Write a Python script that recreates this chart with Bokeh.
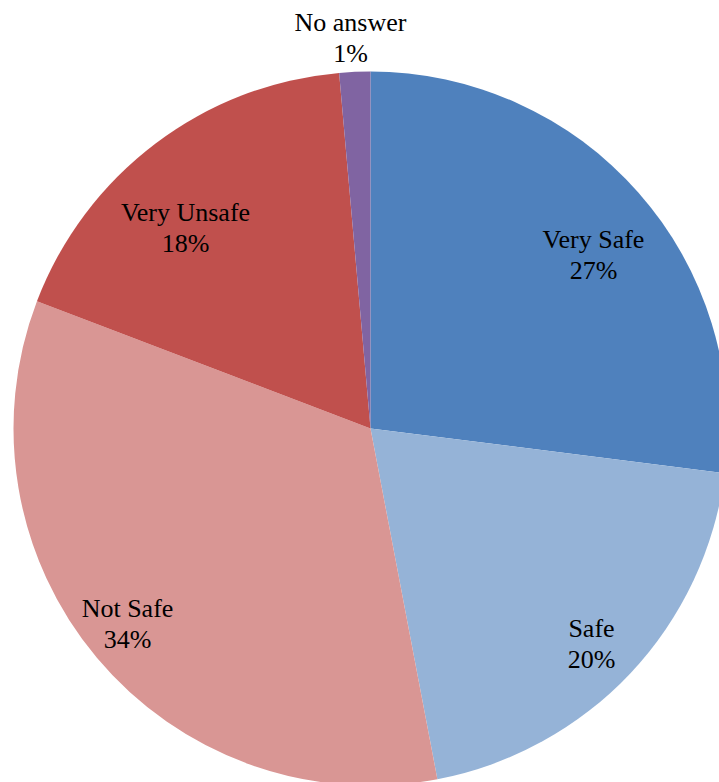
import math
from bokeh.plotting import figure
from bokeh.models import Range1d, ColumnDataSource
from bokeh.core.properties import value
from bokeh.embed import file_html
from bokeh.resources import INLINE

# ---- data ----
categories = ["Very Safe", "Safe", "Not Safe", "Very Unsafe", "No answer"]
shares = [27.0, 20.0, 33.8, 17.8, 1.4]
colors = ["#4F81BD", "#95B3D7", "#D99694", "#C0504D", "#8064A2"]

# ---- layout (screen pixels) ----
W, H = 719, 782
CX, CY_TOP = 370, 428          # pie centre, measured from figure top-left
R = 357
# label anchors: offset of first-line text relative to pie centre (dx, dy downward)
label_offsets = [(223, -189), (221, 200), (-243, 180), (-185, -216), (-20, -406)]
LINE_GAP = 31

cy = H - CY_TOP
total = sum(shares)
starts, ends = [], []
acc = 0.0
for s in shares:
    starts.append(math.pi / 2 - 2 * math.pi * acc / total)
    acc += s
    ends.append(math.pi / 2 - 2 * math.pi * acc / total)

src = ColumnDataSource(dict(
    start=starts, end=ends, color=colors, cat=categories,
    x=[CX] * len(shares), y=[cy] * len(shares),
))

p = figure(width=W, height=H, output_backend="svg", toolbar_location=None,
           x_range=Range1d(0, W), y_range=Range1d(0, H), min_border=0)
p.axis.visible = False
p.xgrid.visible = False
p.ygrid.visible = False
p.outline_line_color = None
p.background_fill_color = "white"
p.border_fill_color = "white"

p.wedge(x="x", y="y", radius=R, radius_units="screen",
        start_angle="start", end_angle="end", direction="clock",
        fill_color="color", line_color=None, source=src)

lx, ly1, ly2, pct = [], [], [], []
for (dx, dy), s in zip(label_offsets, shares):
    lx.append(CX + dx)
    ly1.append(cy - dy)
    ly2.append(cy - dy - LINE_GAP)
    pct.append(f"{round(s)}%")

common = dict(text_font=value("'Liberation Serif', 'Times New Roman', serif"),
              text_font_size="26px",
              text_align="center", text_baseline="alphabetic", text_color="black")
p.text(x=lx, y=ly1, text=categories, **common)
p.text(x=lx, y=ly2, text=pct, **common)

open("out.html", "w").write(file_html(p, INLINE))
